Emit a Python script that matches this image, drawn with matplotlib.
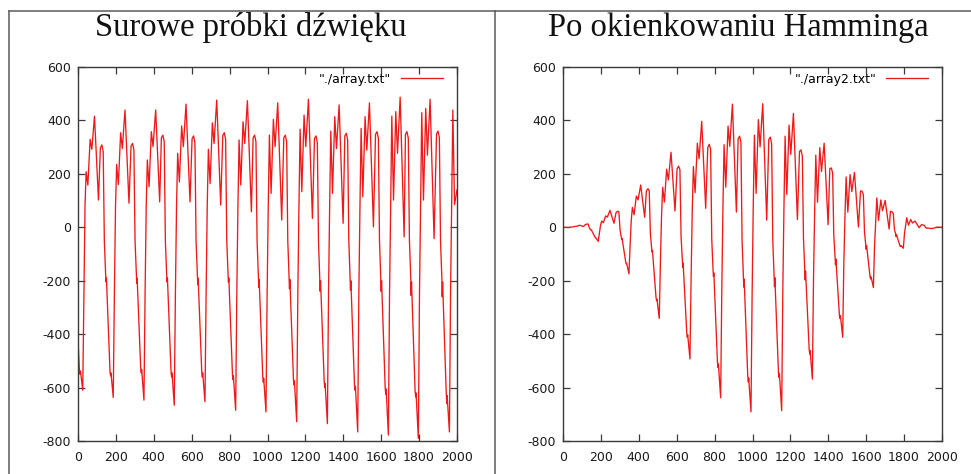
import matplotlib
matplotlib.use("Agg")
import matplotlib.pyplot as plt
from matplotlib.lines import Line2D

plt.rcParams["axes.unicode_minus"] = False

# Sample positions of the traced waveform vertices (shared by both panels)
sample_idx = [
    0, 7, 10, 13, 25,
    31, 37, 43, 52, 64, 73, 87, 108, 118, 126, 133, 139, 146, 148, 150, 169, 172, 174, 186,
    192, 198, 204, 213, 225, 234, 248, 269, 280, 288, 295, 301, 308, 310, 312, 331, 334, 336, 348,
    354, 360, 366, 375, 387, 396, 410, 431, 440, 448, 455, 461, 468, 470, 472, 491, 494, 496, 508,
    514, 520, 526, 535, 547, 556, 570, 591, 602, 610, 617, 623, 630, 632, 634, 653, 656, 658, 670,
    676, 682, 688, 697, 709, 718, 732, 753, 764, 772, 779, 785, 792, 794, 796, 815, 818, 820, 832,
    838, 844, 850, 859, 871, 880, 894, 915, 924, 932, 939, 945, 952, 954, 956, 975, 978, 980, 992,
    998, 1004, 1010, 1019, 1031, 1040, 1054, 1075, 1086, 1094, 1101, 1107, 1114, 1116, 1118, 1137, 1140, 1142, 1154,
    1160, 1166, 1172, 1181, 1193, 1202, 1216, 1237, 1248, 1256, 1263, 1269, 1276, 1278, 1280, 1299, 1302, 1304, 1316,
    1322, 1328, 1334, 1343, 1355, 1364, 1378, 1399, 1408, 1416, 1423, 1429, 1436, 1438, 1440, 1459, 1462, 1464, 1476,
    1482, 1488, 1494, 1503, 1515, 1524, 1538, 1559, 1570, 1578, 1585, 1591, 1598, 1600, 1602, 1621, 1624, 1626, 1638,
    1644, 1650, 1656, 1665, 1677, 1686, 1700, 1721, 1728, 1736, 1743, 1749, 1756, 1758, 1760, 1779, 1782, 1784, 1796,
    1802, 1808, 1814, 1823, 1835, 1844, 1858, 1879, 1892, 1900, 1907, 1913, 1920, 1922, 1924, 1943, 1946, 1948, 1960,
    1966, 1972, 1978, 1987, 2000,
]

# Raw sound samples (array.txt)
raw_samples = [
    -420, -530, -550, -538, -610,
    -250, 80, 208, 158, 329, 292, 416, 102, 298, 308, 283, -50, -180, -205, -190, -541, -556, -545, -637,
    -250, 80, 235, 160, 354, 295, 439, 90, 304, 314, 289, -50, -180, -210, -190, -528, -545, -532, -647,
    -250, 80, 252, 152, 358, 302, 439, 95, 335, 345, 320, -50, -180, -205, -190, -541, -560, -545, -666,
    -250, 80, 277, 170, 379, 302, 461, 95, 332, 342, 317, -50, -180, -215, -190, -541, -560, -545, -653,
    -250, 80, 292, 164, 391, 314, 476, 83, 344, 354, 329, -50, -180, -205, -190, -550, -570, -555, -685,
    -250, 80, 327, 158, 395, 314, 474, 58, 335, 345, 320, -50, -185, -225, -195, -560, -580, -565, -691,
    -250, 80, 345, 127, 404, 302, 466, 27, 335, 345, 320, -50, -185, -230, -195, -570, -590, -575, -728,
    -250, 80, 367, 133, 420, 302, 479, 33, 332, 342, 317, -50, -190, -240, -200, -575, -600, -585, -735,
    -250, 80, 360, 127, 414, 295, 458, 15, 342, 352, 327, -50, -190, -235, -200, -590, -610, -595, -766,
    -250, 80, 370, 114, 414, 289, 466, 2, 348, 358, 333, -50, -190, -240, -200, -600, -625, -605, -778,
    -250, 80, 416, 102, 433, 277, 487, -36, 348, 358, 333, -50, -190, -255, -205, -616, -635, -620, -790,
    -250, 80, 429, 102, 445, 270, 479, -42, 350, 360, 335, -50, -190, -260, -205, -616, -660, -630, -766,
    -250, 80, 439, 85, 140,
]

# Samples after the window (array2.txt)
windowed_samples = [
    0.0, 0.0, 0.0, 0.0, -0.9,
    -0.6, 0.3, 1.0, 1.1, 3.3, 3.8, 7.7, 2.9, 10.1, 11.9, 12.2, -2.3, -9.3, -10.9, -10.4, -37.2, -39.6, -39.7, -52.9,
    -22.1, 7.5, 23.3, 17.2, 42.4, 38.1, 63.3, 15.1, 55.1, 60.0, 57.7, -10.4, -38.9, -46.0, -42.1, -130.3, -136.7, -134.9, -174.8,
    -69.7, 23.0, 74.5, 46.9, 116.8, 102.6, 158.3, 37.3, 136.1, 144.4, 137.4, -22.0, -81.0, -92.8, -86.6, -262.9, -274.8, -269.1, -341.3,
    -130.5, 42.5, 149.8, 94.4, 217.2, 177.4, 280.8, 60.9, 218.3, 228.9, 215.5, -34.4, -125.7, -150.8, -133.8, -395.4, -411.8, -402.0, -492.7,
    -190.7, 61.6, 227.3, 129.6, 314.8, 256.3, 396.5, 71.1, 298.9, 310.5, 291.0, -44.5, -161.5, -184.3, -171.2, -504.9, -524.7, -511.8, -638.4,
    -234.2, 75.3, 309.2, 150.4, 379.0, 303.0, 461.0, 57.0, 330.2, 341.1, 317.1, -49.6, -183.9, -223.8, -194.1, -559.2, -579.3, -564.4, -690.9,
    -250.0, 80.0, 344.9, 126.9, 403.0, 300.8, 462.6, 26.6, 328.9, 337.5, 312.0, -48.6, -179.1, -222.4, -188.4, -544.0, -562.0, -546.9, -686.3,
    -234.6, 74.7, 340.9, 122.5, 382.6, 272.6, 426.0, 28.6, 284.1, 289.6, 265.9, -41.6, -156.5, -197.1, -163.7, -457.2, -474.8, -461.4, -568.3,
    -191.3, 60.6, 269.8, 93.6, 298.1, 208.7, 314.7, 9.8, 219.7, 222.0, 202.7, -30.5, -114.0, -140.3, -118.7, -333.1, -341.5, -331.2, -411.9,
    -132.1, 41.5, 188.6, 56.5, 197.3, 133.6, 205.3, 0.8, 136.0, 135.5, 122.5, -18.0, -66.2, -82.9, -68.5, -188.6, -193.8, -185.8, -225.6,
    -70.4, 21.8, 110.1, 25.7, 102.3, 62.1, 100.4, -6.5, 59.8, 58.1, 51.4, -7.4, -26.6, -35.1, -27.8, -71.3, -71.6, -68.7, -78.4,
    -23.4, 7.1, 35.6, 7.7, 29.2, 15.9, 23.4, -1.5, 10.0, 8.8, 7.1, -0.9, -3.0, -3.9, -2.9, -4.9, -4.8, -4.2, -3.0,
    -0.7, 0.2, 0.5, 0.0, 0.0,
]

x_ticks = [0, 200, 400, 600, 800, 1000, 1200, 1400, 1600, 1800, 2000]
y_ticks = [-800, -600, -400, -200, 0, 200, 400, 600]
titles = ["Surowe próbki dźwięku", "Po okienkowaniu Hamminga"]
legend_labels = ['"./array.txt"', '"./array2.txt"']
series = [raw_samples, windowed_samples]

W, H = 971, 474
fig = plt.figure(figsize=(W / 100, H / 100), dpi=100)
fig.patch.set_facecolor("white")


def rect(x0, y0, x1, y1):
    return [x0 / W, 1 - y1 / H, (x1 - x0) / W, (y1 - y0) / H]


# table-like frame around the two columns
frame_kw = dict(color="#5a5a5a", lw=1.1, transform=fig.transFigure)
fig.add_artist(Line2D([9 / W, 1.0], [1 - 11 / H, 1 - 11 / H], **frame_kw))
fig.add_artist(Line2D([9 / W, 9 / W], [0, 1 - 11 / H], **frame_kw))
fig.add_artist(Line2D([495 / W, 495 / W], [0, 1 - 11 / H], **frame_kw))

axes_px = [(78, 67, 457, 441), (563, 67, 942, 441)]
title_x = [251, 738]
spine_col = "#3a3a3a"

for i in range(2):
    ax = fig.add_axes(rect(*axes_px[i]))
    ax.plot(sample_idx, series[i], color="#f01818", lw=0.95, label=legend_labels[i])
    ax.set_xlim(0, 2000)
    ax.set_ylim(-800, 600)
    ax.set_xticks(x_ticks)
    ax.set_yticks(y_ticks)
    ax.tick_params(direction="in", length=5, width=0.9, top=True, right=True,
                   color=spine_col, labelcolor="#1a1a1a", labelsize=9)
    ax.tick_params(axis="x", pad=7)
    ax.tick_params(axis="y", pad=5)
    for sp in ax.spines.values():
        sp.set_color(spine_col)
        sp.set_linewidth(1.0)
    ax.legend(loc="upper right", bbox_to_anchor=(0.962, 0.985), frameon=False,
              markerfirst=False, fontsize=9, handlelength=3.3, handletextpad=0.8,
              borderpad=0, borderaxespad=0)
    fig.text(title_x[i] / W, 1 - 36 / H, titles[i], ha="center", va="baseline",
             fontsize=23.5, family=["Liberation Serif", "DejaVu Serif"], color="#111111")

fig.savefig("out.png", dpi=100)
